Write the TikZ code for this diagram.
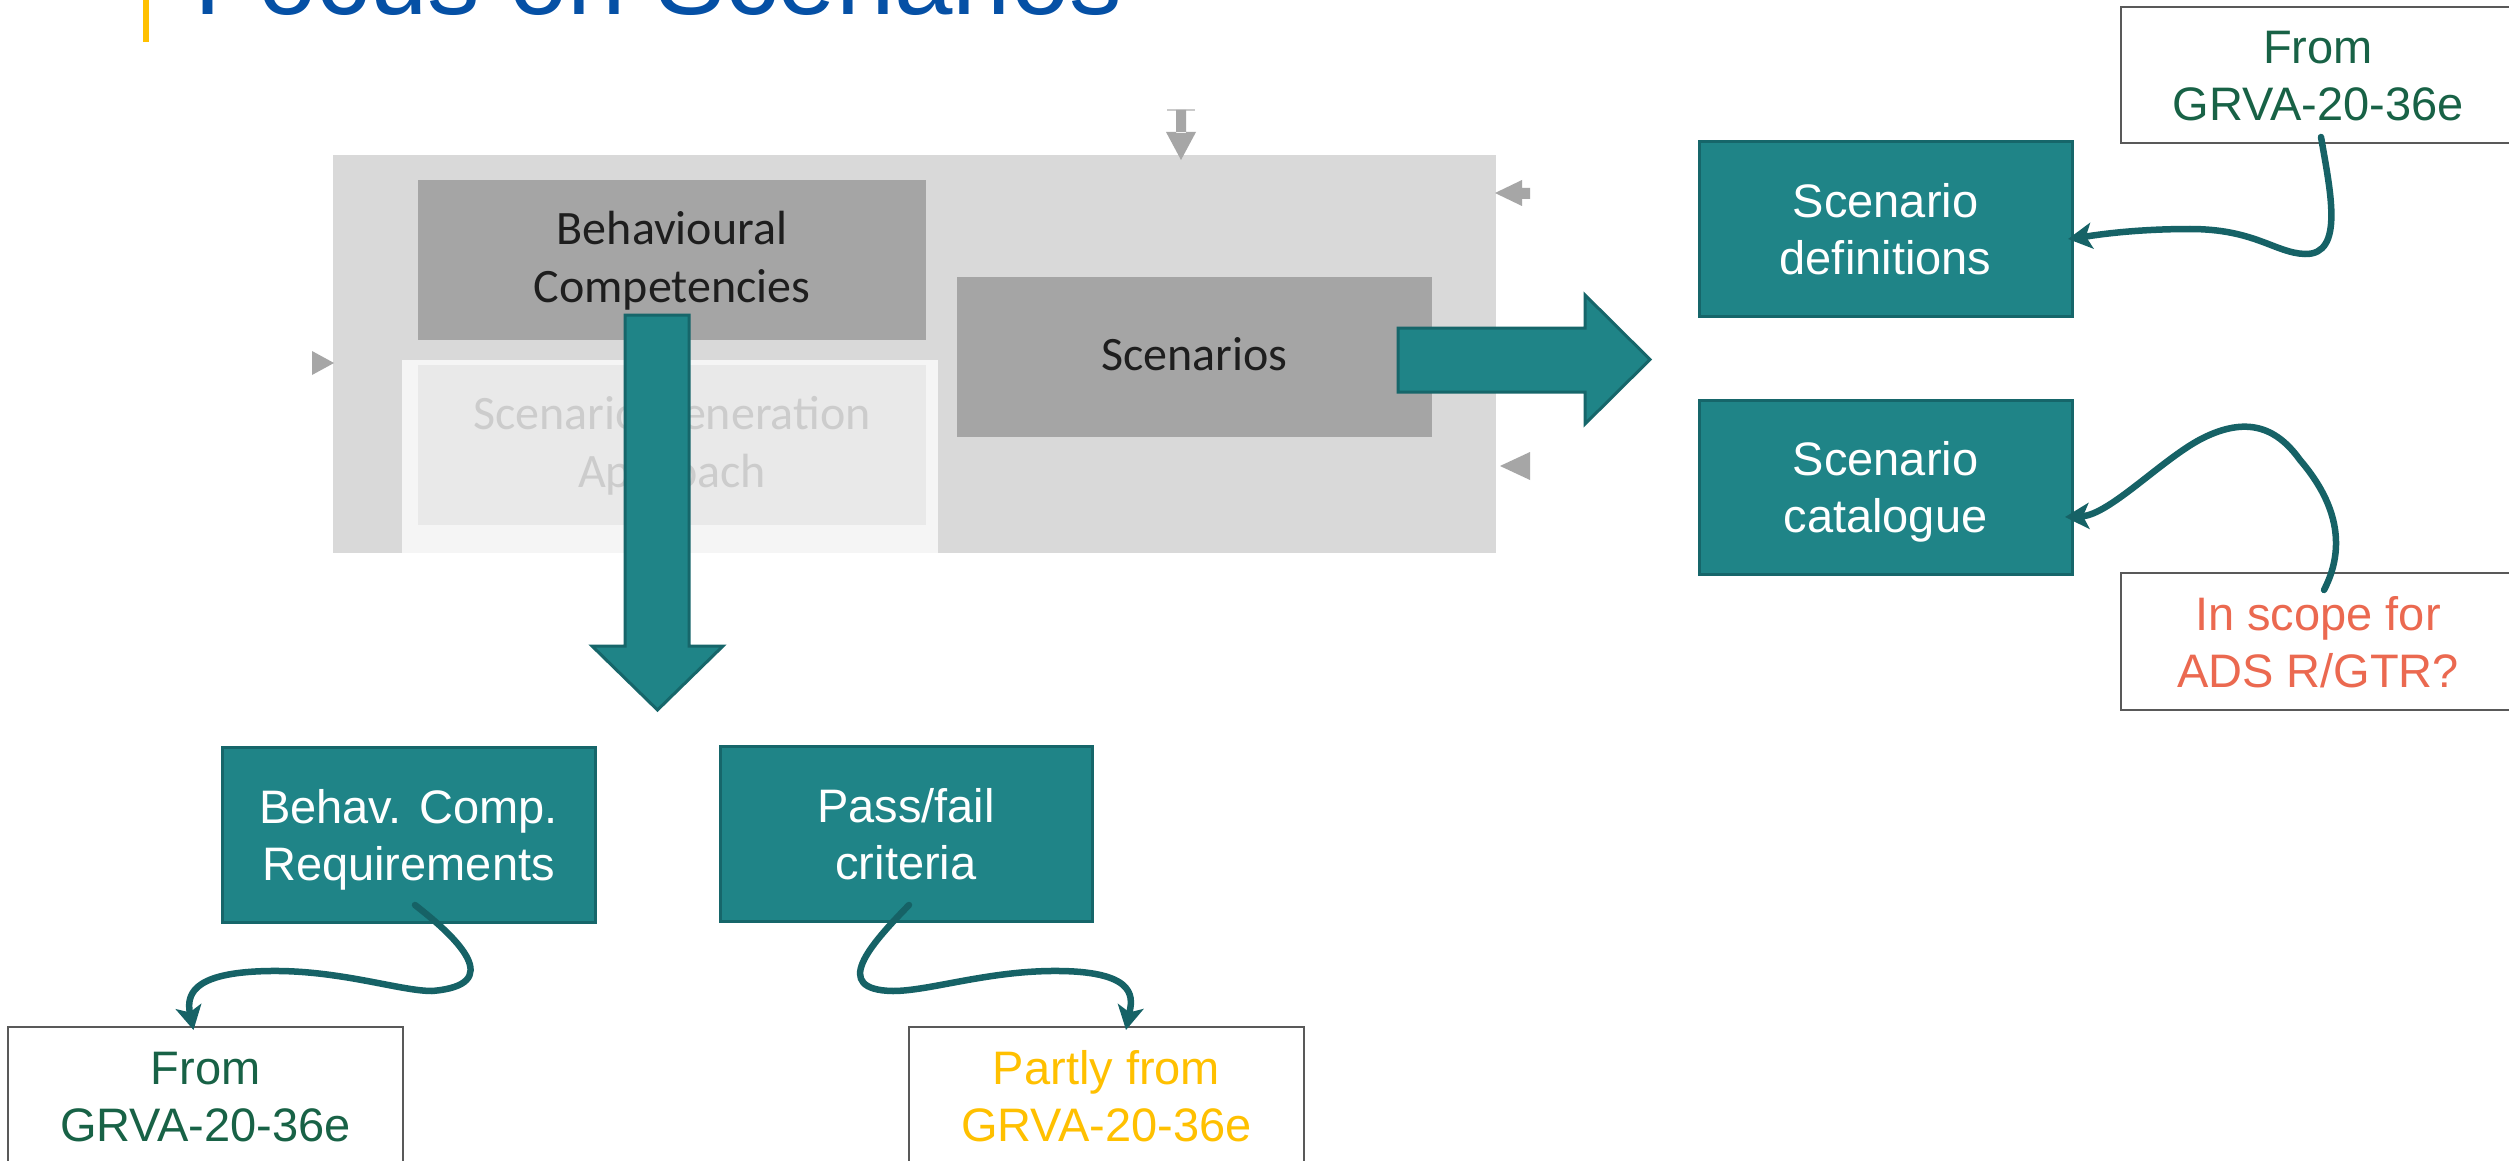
\documentclass[tikz,border=0pt]{standalone}
\usepackage{fontspec}
\setmainfont{Liberation Sans}
\newfontfamily\calib{Carlito}
\usetikzlibrary{arrows.meta,calc}
\definecolor{tealfill}{RGB}{31,132,135}
\definecolor{tealline}{RGB}{22,102,106}
\definecolor{curvecol}{RGB}{22,98,102}
\definecolor{outergray}{RGB}{217,217,217}
\definecolor{midgray}{RGB}{165,165,165}
\definecolor{sgaouter}{RGB}{245,245,245}
\definecolor{sgainner}{RGB}{233,233,233}
\definecolor{sgatext}{RGB}{204,204,204}
\definecolor{graytext}{RGB}{30,30,30}
\definecolor{smallgray}{RGB}{166,166,166}
\definecolor{greentext}{RGB}{24,98,70}
\definecolor{coraltext}{RGB}{235,105,80}
\definecolor{yellowtext}{RGB}{255,192,0}
\definecolor{titleblue}{RGB}{5,80,165}
\definecolor{noteline}{RGB}{89,89,89}
\newcommand{\bst}{\rule[-11.4pt]{0pt}{57pt}}
\newcommand{\gst}{\rule[-16pt]{0pt}{58pt}}
\begin{document}
\begin{tikzpicture}[x=1pt,y=-1pt,
  tealbox/.style={draw=tealline, line width=3pt, fill=tealfill, text=white,
    font=\fontsize{47}{57}\selectfont, align=center, inner sep=0pt, outer sep=0pt},
  notebox/.style={draw=noteline, line width=2.5pt, fill=white,
    font=\fontsize{47}{57}\selectfont, align=center, inner sep=0pt, outer sep=0pt},
  graybox/.style={inner sep=0pt, outer sep=0pt, align=center,
    font=\calib\fontsize{48}{58}\selectfont, text=graytext},
  curvy/.style={draw=curvecol, line width=6.5pt, line cap=round,
    -{Stealth[length=24pt,width=26pt,inset=6pt]}},
  bigarrow/.style={draw=tealline, line width=3pt, fill=tealfill, line join=miter},
  smallarrow/.style={fill=smallgray}]
\useasboundingbox (0,0) rectangle (2509,1161);
\fill[white] (0,0) rectangle (2509,1161);
\clip (0,0) rectangle (2509,1161);

% title
\fill[yellowtext] (143,0) rectangle (149,42);
\node[anchor=base west, inner sep=0pt, text=titleblue,
  font=\fontsize{105}{126}\selectfont] (title) at (194,15) {Focus on Scenarios};

% grey framework picture
\node[graybox, fill=outergray, minimum width=1163pt, minimum height=398pt] (outer) at (914.5,354) {};
\node[graybox, fill=midgray, minimum width=508pt, minimum height=160pt] (bc) at (672,260)
  {\gst Behavioural\\\gst Competencies};
\node[graybox, fill=midgray, minimum width=475pt, minimum height=160pt] (scen) at (1194.5,357)
  {\gst Scenarios};
\node[graybox, fill=sgaouter, minimum width=536pt, minimum height=193pt] (sgaout) at (670,456.5) {};
\node[graybox, fill=sgainner, text=sgatext, minimum width=508pt, minimum height=160pt] (sga) at (672,445)
  {\gst Scenario Generation\\\gst Approach};

% small grey arrows
\fill[smallgray!60] (1167,109) rectangle (1195,111.5);
\fill[smallarrow] (1176,110) rectangle (1186,133) (1166,132) -- (1196,132) -- (1181,160) -- cycle;
\fill[smallarrow] (1495,193) -- (1522,180) -- (1522,188) -- (1530,188) -- (1530,199) -- (1522,199) -- (1522,206) -- cycle;
\fill[smallarrow] (1500,466) -- (1530,452) -- (1530,480) -- cycle;
\fill[smallarrow] (334,363) -- (312,351) -- (312,375) -- cycle;

% big block arrows
\draw[bigarrow] (1398,328) -- (1585,328) -- (1585,295) -- (1650,359.5) -- (1585,424) -- (1585,392) -- (1398,392) -- cycle;
\draw[bigarrow] (625,315) -- (689,315) -- (689,646) -- (723,646) -- (657.5,710) -- (592,646) -- (625,646) -- cycle;

% teal boxes
\node[tealbox, minimum width=373pt, minimum height=174pt] (sd) at (1885.5,229) {\bst Scenario\\\bst definitions};
\node[tealbox, minimum width=373pt, minimum height=174pt] (sc) at (1885.5,487) {\bst Scenario\\\bst catalogue};
\node[tealbox, minimum width=373pt, minimum height=175pt] (bcr) at (408.5,834.5) {\bst Behav. Comp.\\\bst Requirements};
\node[tealbox, minimum width=372pt, minimum height=175pt] (pf) at (906,833.5) {\bst Pass/fail\\\bst criteria};

% note boxes
\node[notebox, text=greentext, minimum width=394pt, minimum height=136pt] (fg) at (2318,75) {\bst From\\\bst GRVA-20-36e};
\node[notebox, text=coraltext, minimum width=394pt, minimum height=137pt] (is) at (2318,641.5) {\bst In scope for\\\bst ADS R/GTR?};
\node[notebox, text=greentext, minimum width=395pt, minimum height=138pt] (from) at (205.5,1096) {\bst From\\\bst GRVA-20-36e};
\node[notebox, text=yellowtext, minimum width=395pt, minimum height=138pt] (partly) at (1106.5,1096) {\bst Partly from\\\bst GRVA-20-36e};

% curvy connectors
\draw[curvy] ([xshift=3pt,yshift=6pt]fg.south) .. controls (2330,190) and (2345,255) .. (2305,254)
  .. controls (2275,253) and (2255,229) .. (2190,229)
  .. controls (2130,229) and (2090,236) .. ([xshift=-4pt,yshift=-10pt]sd.east);
\draw[curvy] ([xshift=6pt,yshift=-17pt]is.north) .. controls (2350,540) and (2330,495) .. (2300,460)
  .. controls (2275,425) and (2245,418) .. (2205,437)
  .. controls (2165,456) and (2110,515) .. ([xshift=-7pt,yshift=-30pt]sc.east);
\draw[curvy] ([xshift=6.5pt,yshift=17pt]bcr.south) .. controls (460,940) and (505,985) .. (432,991)
  .. controls (400,991) and (340,970) .. (270,971)
  .. controls (200,972) and (185,990) .. ([xshift=-12pt,yshift=-3pt]from.north);
\draw[curvy] ([xshift=3pt,yshift=16pt]pf.south) .. controls (870,945) and (830,990) .. (893,991)
  .. controls (930,991) and (990,970) .. (1060,971)
  .. controls (1140,972) and (1132,1000) .. ([xshift=19.5pt,yshift=-3pt]partly.north);
\end{tikzpicture}
\end{document}
